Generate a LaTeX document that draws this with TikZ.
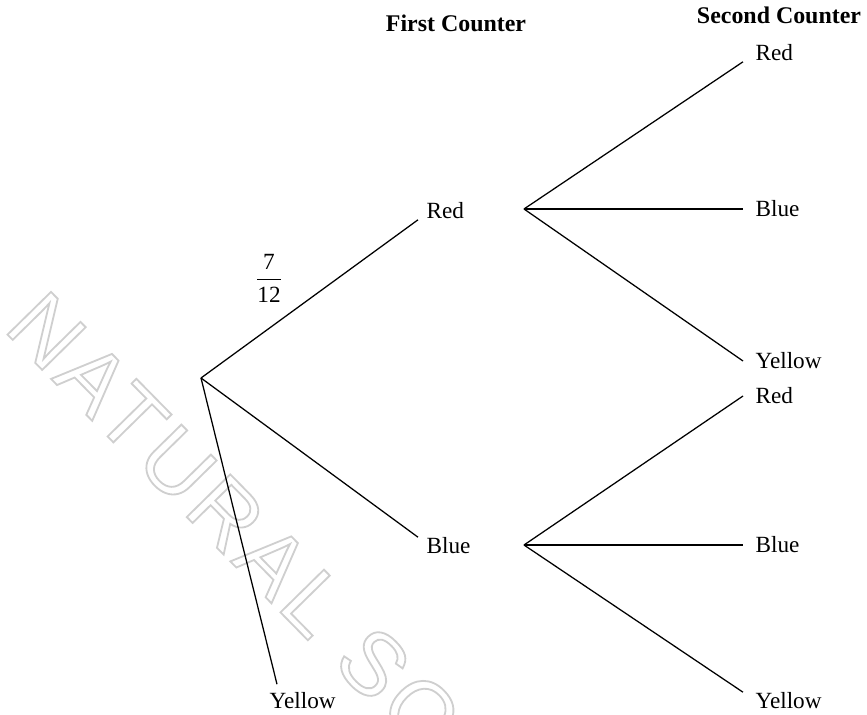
\documentclass[tikz,border=0pt]{standalone}
\usepackage{fontspec}
\setmainfont{Liberation Serif}
\newfontfamily\wmfont[LetterSpace=6]{Liberation Sans}
\usetikzlibrary{calc}
\definecolor{cwater}{HTML}{CFCFCF}
% outlined (stroked) letters for the watermark
\newcommand\hollow[1]{\special{pdf:code 1 Tr 1.3 w}#1\special{pdf:code 0 Tr}}
\tikzset{
  every picture/.style={line width=0.9pt},
  leaf/.style={font=\fontsize{16.5}{20}\selectfont, inner ysep=0pt, inner xsep=#1, anchor=west},
  leaf/.default=5.7pt,
  head/.style={font=\fontsize{17}{20}\selectfont\bfseries},
  prob/.style={font=\fontsize{16.5}{20}\selectfont, inner sep=0pt},
  wmark/.style={font=\fontsize{63}{70}\selectfont\wmfont, text=cwater, inner sep=0pt},
}

\begin{document}
\begin{tikzpicture}[x=0.025cm, y=-0.025cm]
  \useasboundingbox (0,0) rectangle (867,715);
  % watermark behind the tree
  \node[wmark, rotate=-45.5, anchor=base west] (wm) at (2,329) {\hollow{NATURAL SC}};
  \node[head] (fc) at (456,23) {First Counter};
  \node[head] (sc) at (779,15) {Second Counter};
  % first counter
  \coordinate (o) at (201,378);
  \node[leaf] (r1) at (418,211) {Red};
  \node[leaf] (b1) at (418,546) {Blue};
  \node[leaf=0pt] (y1) at (269,701) {Yellow};
  \node[prob] (p) at (269,278) {$\displaystyle\frac{\mbox{7}}{\mbox{12}}$};
  \draw (o) -- (r1.south west);
  \draw (o) -- (b1.north west);
  \draw (o) -- ($(y1.north west)+(8,-8)$);
  % second counter
  \coordinate (rj) at (524,209);
  \coordinate (bj) at (524,545);
  \node[leaf=8.5pt] (r2) at (743,53) {Red};
  \node[leaf=8.5pt] (b2) at (743,209) {Blue};
  \node[leaf=8.5pt] (y2) at (743,361) {Yellow};
  \node[leaf=8.5pt] (r3) at (743,396) {Red};
  \node[leaf=8.5pt] (b3) at (743,545) {Blue};
  \node[leaf=8.5pt] (y3) at (743,701) {Yellow};
  \draw (rj) -- (r2.south west); \draw (rj) -- (b2.west); \draw (rj) -- (y2.west);
  \draw (bj) -- (r3.west); \draw (bj) -- (b3.west); \draw (bj) -- (y3.north west);
\end{tikzpicture}
\end{document}
